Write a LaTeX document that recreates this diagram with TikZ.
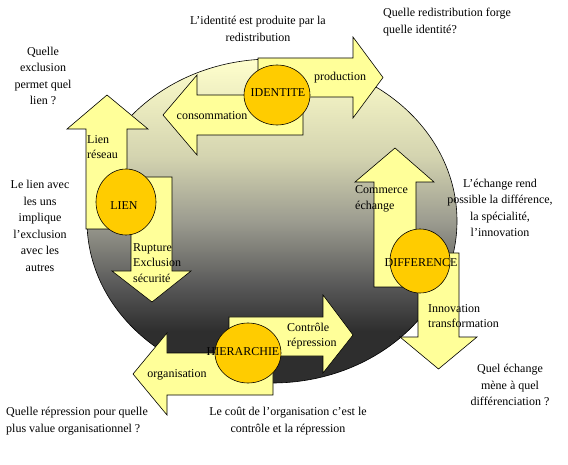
\documentclass[tikz,border=0pt]{standalone}
\usepackage{fontspec}
\setmainfont{Liberation Serif}
\usetikzlibrary{positioning}
\definecolor{pale}{HTML}{FFFF99}
\definecolor{gold}{HTML}{FFCC00}
\definecolor{shadetop}{HTML}{FFFFCC}
\definecolor{shadeupper}{HTML}{D4D4B0}
\definecolor{shademid}{HTML}{9C9C90}
\definecolor{shadelow}{HTML}{585858}
\definecolor{shadebot}{HTML}{2E2E2E}
\pgfdeclareverticalshading{orb}{100bp}{color(0bp)=(shadebot); color(25bp)=(shadebot); color(33bp)=(shadebot); color(40bp)=(shadelow); color(50bp)=(shademid); color(60bp)=(shadeupper); color(75bp)=(shadetop); color(100bp)=(shadetop)}

\begin{document}
\begin{tikzpicture}[x=1pt,y=-1pt,font=\fontsize{12}{16.5}\selectfont,
  blockarrow/.style={fill=pale,draw=black,line width=0.6pt},
  hub/.style={fill=gold,draw=black,line width=0.6pt},
  tag/.style={align=left,inner sep=0pt,anchor=west,font=\fontsize{12}{15.5}\selectfont},
  note/.style={align=center,inner sep=0pt}]
  \useasboundingbox (0,0) rectangle (568,465);
  \shade[draw=black,line width=0.6pt,shading=orb] (272,221) ellipse (185 and 162);

  \draw[blockarrow] (258,58) -- (353,58) -- (353,37) -- (383,77.5) -- (353,118) -- (353,97) -- (258,97) -- cycle;
  \draw[blockarrow] (303,95) -- (197,95) -- (197,75) -- (163,115) -- (197,155) -- (197,135) -- (303,135) -- cycle;
  \draw[hub] (277,95) ellipse (33 and 30);
  \node (identite) at (278,93) {IDENTITE};
  \node (production) at (340,78) {production};
  \node (consommation) at (212,116) {consommation};

  \draw[blockarrow] (86,229) -- (86,129) -- (67,129) -- (107,95) -- (148,129) -- (127,129) -- (127,229) -- cycle;
  \draw[blockarrow] (131,177) -- (172,177) -- (172,271) -- (191,271) -- (152,302) -- (112,271) -- (131,271) -- cycle;
  \draw[hub] (126,202) ellipse (30 and 33);
  \node (lien) at (124,206) {LIEN};
  \node[tag] (reseau) at (87,147) {Lien\\réseau};
  \node[tag] (rupture) at (133,263) {Rupture\\Exclusion\\sécurité};

  \draw[blockarrow] (374,287) -- (374,182) -- (355,182) -- (395,148) -- (434,182) -- (416,182) -- (416,287) -- cycle;
  \draw[blockarrow] (418,253) -- (459,253) -- (459,337) -- (477,337) -- (438.5,369) -- (400,337) -- (418,337) -- cycle;
  \draw[hub] (420,261) ellipse (30 and 32);
  \node (difference) at (421,263) {DIFFERENCE};
  \node[tag] (commerce) at (355,199) {Commerce\\échange};
  \node[tag] (innovation) at (428,316) {Innovation\\transformation};

  \draw[blockarrow] (229,317) -- (323,317) -- (323,295) -- (353,335) -- (323,373) -- (323,356) -- (229,356) -- cycle;
  \draw[blockarrow] (273,353) -- (167,353) -- (167,333) -- (133,374) -- (167,415) -- (167,395) -- (273,395) -- cycle;
  \draw[hub] (248,353) ellipse (33 and 30);
  \node (hierarchie) at (243,352) {HIERARCHIE};
  \node[tag] (controle) at (287,336) {Contrôle\\répression};
  \node (organisation) at (177,375) {organisation};

  \node[note] (identitenote) at (258,29) {L’identité est produite par la\\redistribution};
  \node[note,align=left,anchor=west] (identiteq) at (383,22) {Quelle redistribution forge\\quelle identité?};
  \node[note] (lienq) at (43,76) {Quelle\\exclusion\\permet quel\\lien ?};
  \node[note] (liennote) at (40,226) {Le lien avec\\les uns\\implique\\l’exclusion\\avec les\\autres};
  \node[note] (differencenote) at (500,208) {L’échange rend\\possible la différence,\\la spécialité,\\l’innovation};
  \node[note] (differenceq) at (510,385) {Quel échange\\mène à quel\\différenciation ?};
  \node[note,align=left,anchor=west] (hierarchieq) at (6,421) {Quelle répression pour quelle\\plus value organisationnel ?};
  \node[note] (hierarchienote) at (288,421) {Le coût de l’organisation c’est le\\contrôle et la répression};
\end{tikzpicture}
\end{document}
